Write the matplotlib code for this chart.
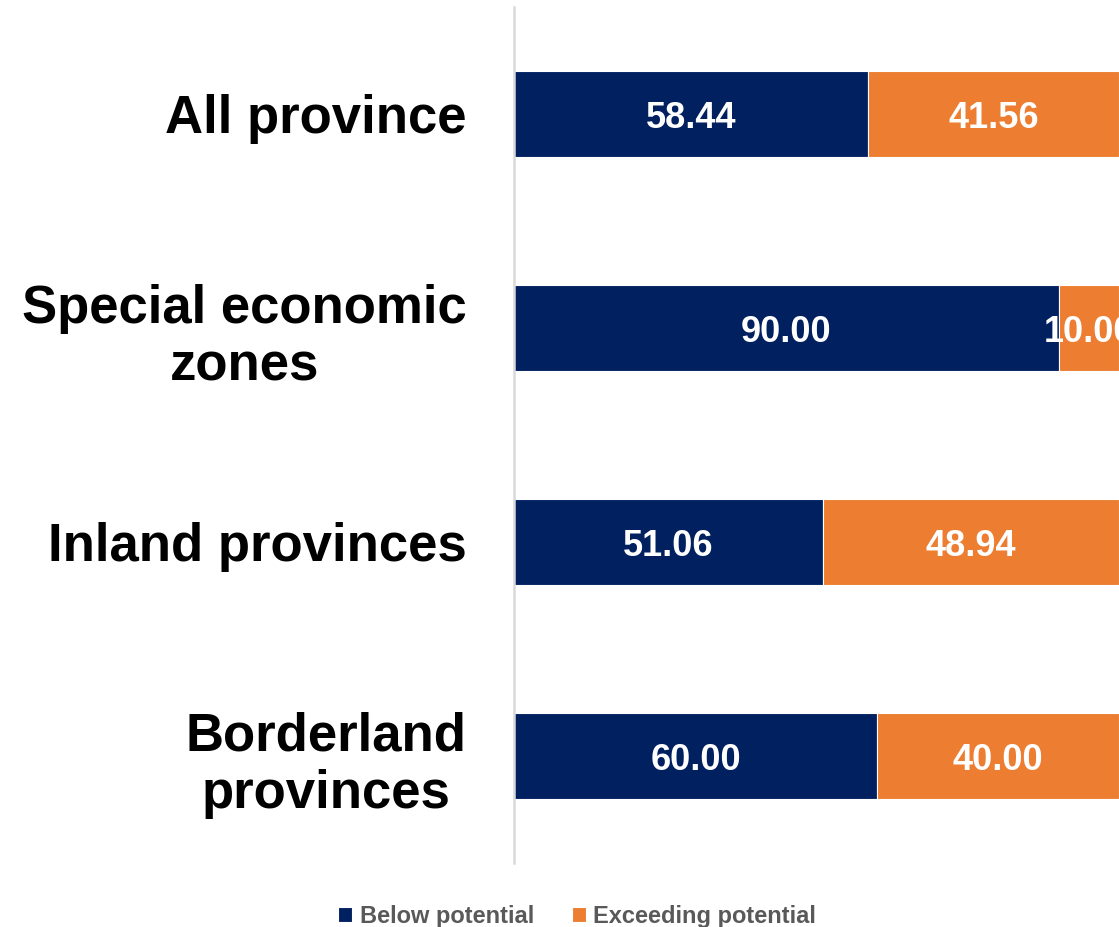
import matplotlib.pyplot as plt

categories = ['All province', 'Special economic\nzones', 'Inland provinces', 'Borderland\nprovinces']
below = [58.44, 90.00, 51.06, 60.00]
exceeding = [41.56, 10.00, 48.94, 40.00]

navy = '#002060'
orange = '#ED7D31'

plt.rcParams['font.family'] = ['Liberation Sans', 'DejaVu Sans']

fig = plt.figure(figsize=(11.19, 9.27), dpi=100)
ax = fig.add_axes([514/1119, 1-863/927, 1-514/1119, (863-7)/927])

y = list(range(len(categories)))
b1 = ax.barh(y, below, height=0.40, color=navy, edgecolor='white', linewidth=0.8,
             label='Below potential')
b2 = ax.barh(y, exceeding, left=below, height=0.40, color=orange, edgecolor='white',
             linewidth=0.8, label='Exceeding potential')

for i in y:
    ax.text(below[i]/2, i, f'{below[i]:.2f}', ha='center', va='center_baseline',
            color='white', fontsize=26, fontweight='bold')
    ax.text(below[i] + exceeding[i]/2, i, f'{exceeding[i]:.2f}', ha='center',
            va='center_baseline', color='white', fontsize=26, fontweight='bold',
            clip_on=True)

ax.set_xlim(0, 100)
ax.set_ylim(3.5, -0.5)
ax.set_yticks(y)
ax.set_yticklabels(categories, fontsize=38, fontweight='bold', multialignment='center',
                   linespacing=1.2)
ax.tick_params(axis='y', length=0, pad=34)
ax.set_xticks([])
for s in ['top', 'right', 'bottom']:
    ax.spines[s].set_visible(False)
ax.spines['left'].set_color('#D9D9D9')
ax.spines['left'].set_linewidth(1.8)

leg = fig.legend(handles=[b1, b2], loc='center', bbox_to_anchor=(577/1119, 1-916/927),
                 ncol=2, frameon=False, handlelength=0.6, handleheight=0.6,
                 handletextpad=0.3, columnspacing=1.6,
                 prop={'size': 17, 'weight': 'bold'})
for t in leg.get_texts():
    t.set_color('#595959')

fig.savefig('out.png', dpi=100)
